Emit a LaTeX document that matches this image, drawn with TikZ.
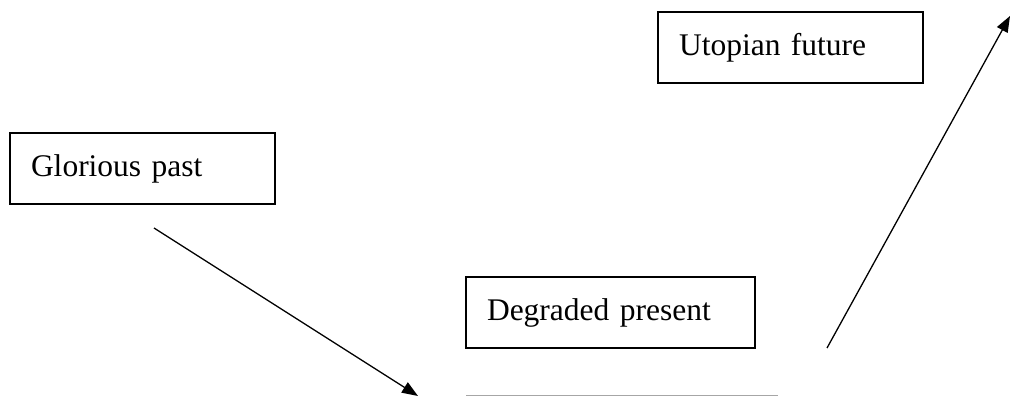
\documentclass[tikz,border=0pt]{standalone}
\usepackage{fontspec}
\setmainfont{Liberation Serif}
\usetikzlibrary{arrows.meta}
\tikzset{
  txtbox/.style={draw, line width=1.4pt, rectangle, align=left, inner xsep=21pt,
    minimum height=71pt, font=\fontsize{31.5}{38}\selectfont},
  flow/.style={line width=1.3pt, -{Triangle[length=16pt,width=12pt]}}
}
\begin{document}
\begin{tikzpicture}[x=1pt, y=-1pt]
    % Canvas
    \useasboundingbox (0,0) rectangle (1011,396);

    % Boxes
    \node[txtbox, text width=223pt] (past) at (142.5,168.5) {Glorious past};
    \node[txtbox, text width=223pt] (future) at (790.5,47.5) {Utopian future};
    \node[txtbox, text width=247pt] (present) at (610.5,312.5) {Degraded present};

    % Edge of the box below, cut off
    \draw[gray!70, line width=1.2pt] (466,395.4) -- (778,395.4);

    % Arrow ends
    \coordinate (pastout) at (154,228);
    \coordinate (presentin) at (418,396);
    \coordinate (presentout) at (827,348);
    \coordinate (futurein) at (1010,16);

    % Arrows
    \draw[flow] (pastout) -- (presentin);
    \draw[flow] (presentout) -- (futurein);
\end{tikzpicture}
\end{document}
